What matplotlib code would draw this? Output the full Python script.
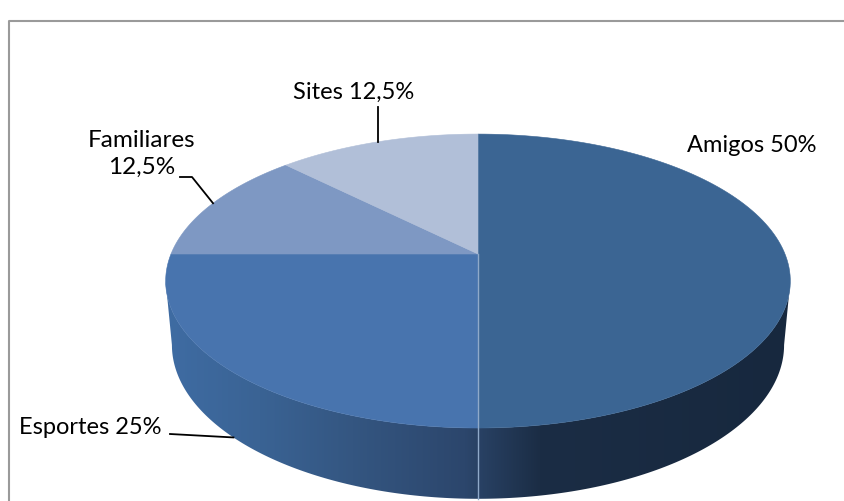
import numpy as np
import matplotlib
matplotlib.use("Agg")
import matplotlib.pyplot as plt
from matplotlib.patches import Polygon
from matplotlib.colors import LinearSegmentedColormap

# Data, clockwise from 12 o'clock
labels = ["Amigos 50%", "Esportes 25%", "Familiares\n12,5%", "Sites 12,5%"]
values = [50, 25, 12.5, 12.5]
colors = ["#3b6593", "#4874ae", "#7e98c3", "#b1bfd8"]

# Pie geometry in pixels (3D look done with a perspective map of the unit circle)
CX, CY = 478, 254
RX, RY = 307, 142
PERSP = 0.184
DEPTH = 62.6
LOW_X = 0.98
LOW_Y = 1.047

plt.rcParams["font.family"] = ["Lato", "DejaVu Sans"]

fig = plt.figure(figsize=(8.45, 5.01), dpi=100)
ax = fig.add_axes([0, 0, 1, 1])
ax.set_xlim(0, 845)
ax.set_ylim(501, 0)
ax.axis("off")


def rim(theta, lower=False):
    # theta in degrees, counterclockwise from 3 o'clock
    t = np.radians(theta)
    w = 1 + PERSP * np.sin(t)
    x = RX * np.cos(t) / w
    y = -RY * np.sin(t) / w
    if lower:
        return CX + LOW_X * x, CY + DEPTH + LOW_Y * y
    return CX + x, CY + y


# Outer frame, only top and left are inside the crop
ax.plot([9.5, 9.5, 845], [501, 20.5, 20.5], color="#9a9a9a", lw=1.5)

# Side wall with a horizontal gradient, between the widest points of both rims
widest = np.degrees(np.arcsin(PERSP))
angles = np.linspace(180 + widest, 360 - widest, 200)
tx, ty = rim(angles)
bx, by = rim(angles[::-1], lower=True)
side = Polygon(np.column_stack([np.r_[tx, bx], np.r_[ty, by]]), closed=True, fc="none", ec="none")
ax.add_patch(side)
cmap = LinearSegmentedColormap.from_list("side", [
    (0.0, "#3f6ca3"), (0.15, "#3a6394"), (0.30, "#345681"), (0.48, "#2c466c"),
    (0.50, "#294265"), (0.60, "#1b2d45"), (1.0, "#17283e"),
])
img = ax.imshow(np.linspace(0, 1, 256).reshape(1, -1), cmap=cmap, aspect="auto",
                extent=(165, 790, 501, 250), zorder=1)
img.set_clip_path(side)
ax.set_xlim(0, 845)
ax.set_ylim(501, 0)

# Top surface, one polygon per slice
fractions = np.array(values) / sum(values)
start = 90.0
mids = []
for frac, col in zip(fractions, colors):
    end = start - frac * 360
    mids.append((start + end) / 2)
    th = np.linspace(start, end, 120)
    px, py = rim(th)
    ax.add_patch(Polygon(np.column_stack([np.r_[CX, px], np.r_[CY, py]]), closed=True,
                         fc=col, ec=col, lw=0.4, zorder=2))
    start = end

# Pale seam at the start of the first slice, running down the wall
sx, sy = rim(-90, lower=True)
ax.plot([CX, CX], [CY, sy], color="#8fa9c9", lw=1.0, zorder=3)

# Labels
ax.text(752, 145, labels[0], ha="center", va="center", fontsize=17, color="#000000")
ax.text(90, 428, labels[1], ha="center", va="center", fontsize=17, color="#000000")
ax.text(142, 154, labels[2], ha="center", va="center", fontsize=17.5, color="#000000", linespacing=1.32)
ax.text(354, 92, labels[3], ha="center", va="center", fontsize=17, color="#000000")

# Leader lines end on the rim at the middle of each slice
lx, ly = rim(mids[3])
ax.plot([lx, lx], [107, ly], color="black", lw=1.3, zorder=4)
lx, ly = rim(mids[2])
ax.plot([180, 192, lx], [177, 177, ly], color="black", lw=1.3, zorder=4)
lx, ly = rim(mids[1], lower=True)
ax.plot([170, lx], [434, ly], color="black", lw=1.3, zorder=4)

fig.savefig("out.png", dpi=100)
